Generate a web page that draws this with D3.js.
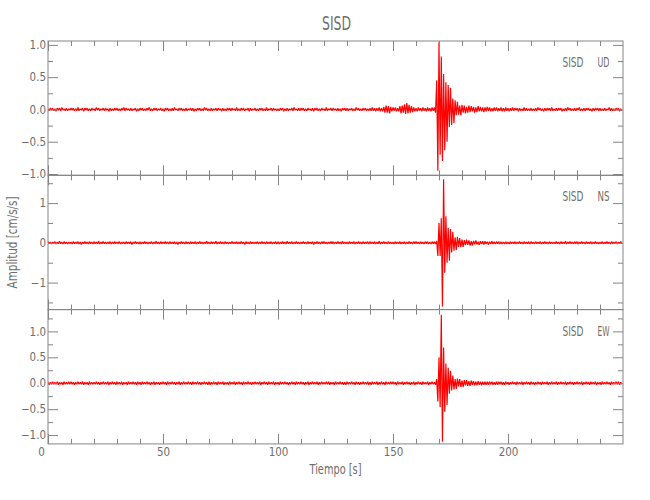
<!DOCTYPE html>
<html><head><meta charset="utf-8">
<script src="https://cdn.jsdelivr.net/npm/d3@7"></script>
<style>
body{margin:0;background:#fff;}
svg{display:block;}
text{font-family:"Liberation Sans Narrow","DejaVu Sans Condensed","Liberation Sans",sans-serif;fill:#6e6e6e;}
.tick text{font-size:11.5px;}
</style></head><body>
<svg id="chart" width="650" height="500"></svg>
<script>
// ---------------- DATA ----------------
const title = "SISD";
const station = "SISD";
const components = ["UD", "NS", "EW"];
const xLabel = "Tiempo [s]";
const yLabel = "Amplitud [cm/s/s]";
const sampleStep = 0.5;            // seconds between samples
const timeRange = [0, 250];
const xTickValues = [0, 50, 100, 150, 200];
const xTickLabels = ["0", "50", "100", "150", "200"];

// amplitudes in 0.01 cm/s/s, one sample every 0.5 s (20 samples = 10 s per row)
const udTrace = [
 1,-2,2,-1,2,-2,1,-3,2,-1,2,-2,3,-1,1,-2,2,-2,1,-1,
 2,-1,2,-2,1,-2,3,-2,1,-1,2,-3,2,-1,2,-2,1,-2,2,-1,
 1,-2,3,-1,2,-2,1,-1,2,-2,2,-1,1,-3,2,-2,1,-2,2,-1,
 2,-2,1,-2,2,-1,3,-2,2,-1,1,-2,2,-2,1,-1,2,-3,1,-2,
 2,-1,2,-2,1,-2,2,-1,3,-2,1,-2,2,-1,2,-2,1,-1,2,-2,
 1,-3,2,-1,2,-2,1,-2,2,-2,3,-1,1,-2,2,-1,2,-2,1,-2,
 2,-2,1,-1,2,-2,2,-3,1,-2,2,-1,2,-2,1,-2,3,-1,2,-2,
 1,-2,2,-2,1,-1,2,-2,2,-1,1,-3,2,-2,1,-2,2,-1,2,-2,
 2,-1,1,-2,3,-2,1,-2,2,-1,2,-2,1,-1,2,-3,2,-2,1,-1,
 2,-2,1,-2,2,-1,2,-2,1,-2,3,-2,1,-1,2,-2,2,-1,1,-2,
 1,-2,2,-1,2,-3,1,-2,2,-2,1,-1,2,-2,3,-1,1,-2,2,-2,
 2,-1,2,-2,1,-2,2,-1,1,-2,2,-3,2,-1,2,-2,1,-2,2,-1,
 1,-2,3,-2,1,-1,2,-2,2,-1,1,-2,2,-2,1,-3,2,-1,2,-2,
 2,-2,1,-1,2,-2,1,-2,3,-1,2,-2,1,-2,2,-1,2,-2,1,-2,
 2,-2,3,-2,2,-3,2,-2,3,-3,2,-3,4,-5,6,-5,5,-6,4,-3,
 3,-2,3,-3,2,-3,5,-6,6,-5,8,-7,10,-6,7,-5,5,-4,3,-3,
 2,-3,3,-2,2,-3,3,-2,2,-3,3,-2,2,-3,3,-2,3,-5,45,-95,
 104,-70,82,-80,55,-63,42,-50,38,-27,33,-24,17,-21,14,-9,12,-8,6,-9,
 7,-5,6,-6,4,-5,6,-4,5,-3,4,-5,3,-4,5,-3,4,-3,3,-4,
 3,-3,4,-2,3,-3,2,-3,3,-2,3,-3,2,-2,3,-3,2,-3,3,-2,
 2,-3,2,-2,3,-2,2,-1,2,-3,2,-2,1,-2,3,-2,2,-2,1,-2,
 2,-2,1,-2,2,-2,3,-1,2,-2,1,-3,2,-2,2,-1,2,-2,3,-2,
 1,-2,2,-2,2,-1,2,-3,1,-2,2,-2,3,-1,2,-2,1,-2,2,-2,
 2,-1,3,-2,1,-2,2,-2,2,-1,2,-2,1,-3,2,-2,2,-1,2,-2,
 2,-2,1,-2,2,-2,1,-1,3,-2,2,-2,1,-2,2,-1,2,-3,1,-2
];
const nsTrace = [
 3,-2,2,-3,2,-2,3,-3,2,-2,4,-2,2,-3,3,-2,2,-3,2,-2,
 2,-3,3,-2,2,-2,3,-3,2,-4,2,-2,3,-2,2,-3,3,-2,2,-3,
 3,-2,2,-2,4,-3,2,-2,3,-2,2,-3,2,-2,3,-3,2,-2,3,-2,
 2,-2,3,-3,2,-2,2,-3,3,-2,2,-2,3,-4,2,-2,3,-2,2,-3,
 3,-3,2,-2,3,-2,2,-3,2,-2,3,-3,2,-2,4,-2,2,-3,3,-2,
 2,-2,3,-2,2,-3,3,-2,2,-2,3,-3,2,-4,2,-2,3,-2,2,-3,
 3,-2,2,-3,3,-2,2,-2,3,-3,2,-2,3,-2,2,-3,2,-2,4,-2,
 2,-3,3,-2,2,-2,4,-3,2,-2,3,-2,2,-3,3,-2,2,-3,2,-2,
 3,-2,2,-2,3,-3,2,-2,3,-2,2,-4,3,-2,2,-3,3,-2,2,-2,
 2,-2,3,-3,2,-2,3,-2,2,-3,3,-2,2,-2,3,-3,2,-2,3,-3,
 3,-3,2,-2,3,-2,2,-3,4,-2,2,-2,3,-3,2,-2,3,-2,2,-3,
 2,-2,3,-2,2,-3,3,-2,2,-2,3,-4,2,-2,3,-2,2,-3,3,-2,
 3,-2,2,-3,2,-2,3,-2,3,-3,2,-2,3,-2,2,-3,4,-2,2,-2,
 2,-3,3,-2,2,-2,3,-3,2,-2,3,-2,2,-3,3,-2,2,-2,3,-3,
 3,-2,2,-2,3,-3,2,-2,4,-3,2,-2,3,-2,2,-3,3,-2,2,-2,
 2,-3,3,-2,2,-2,3,-3,2,-2,3,-3,2,-2,3,-2,2,-3,3,-2,
 3,-2,2,-3,3,-2,2,-3,3,-2,3,-3,2,-3,3,-2,3,-3,5,-33,
 50,-33,62,-160,160,-75,67,-50,38,-45,35,-24,28,-20,14,-18,15,-10,12,-11,
 8,-10,7,-6,8,-5,6,-7,4,-6,5,-4,6,-4,3,-5,4,-3,4,-4,
 4,-3,3,-4,3,-3,4,-3,3,-3,3,-2,3,-3,3,-3,2,-3,3,-3,
 2,-3,3,-2,2,-2,3,-3,2,-2,3,-2,2,-3,3,-2,2,-2,3,-3,
 3,-2,2,-3,3,-2,2,-2,3,-3,2,-2,3,-2,2,-3,3,-2,2,-2,
 2,-2,3,-2,2,-3,3,-2,2,-2,4,-3,2,-2,3,-2,2,-3,3,-2,
 3,-3,2,-2,3,-2,2,-3,3,-2,2,-2,3,-3,2,-2,3,-2,2,-3,
 2,-2,3,-3,2,-2,3,-2,2,-3,3,-2,2,-2,3,-3,2,-2,3,-2
];
const ewTrace = [
 2,-3,2,-2,3,-2,2,-2,3,-3,2,-2,2,-3,3,-2,2,-2,3,-2,
 3,-2,2,-3,2,-2,3,-2,2,-2,3,-3,2,-2,2,-3,3,-2,2,-2,
 2,-2,3,-2,2,-3,2,-2,3,-2,2,-2,3,-3,2,-2,3,-2,2,-3,
 3,-2,2,-2,3,-3,2,-2,2,-3,3,-2,2,-2,3,-2,2,-3,3,-2,
 2,-3,3,-2,2,-2,3,-2,2,-3,2,-2,3,-3,2,-2,2,-3,2,-2,
 3,-2,2,-3,3,-2,2,-2,3,-2,2,-3,2,-2,3,-3,2,-2,3,-2,
 2,-2,3,-2,2,-3,3,-2,2,-2,3,-2,2,-3,2,-2,3,-2,2,-3,
 3,-3,2,-2,3,-2,2,-3,3,-2,2,-2,3,-3,2,-2,2,-3,3,-2,
 2,-2,3,-3,2,-2,3,-2,2,-3,3,-2,2,-2,3,-2,2,-3,2,-2,
 3,-2,2,-2,3,-3,2,-2,3,-2,2,-3,3,-2,2,-2,3,-3,2,-2,
 2,-3,3,-2,2,-2,3,-2,2,-3,2,-2,3,-2,2,-3,3,-2,2,-2,
 3,-2,2,-3,2,-2,3,-3,2,-2,3,-2,2,-2,3,-3,2,-2,3,-2,
 2,-2,3,-2,3,-3,2,-2,2,-3,3,-2,2,-2,3,-2,2,-3,2,-3,
 3,-2,2,-2,3,-2,2,-3,3,-2,2,-3,2,-2,3,-2,2,-2,3,-3,
 2,-3,3,-2,2,-2,3,-3,2,-2,3,-2,2,-3,3,-2,2,-2,3,-2,
 3,-2,2,-3,3,-2,2,-2,3,-3,2,-2,3,-2,2,-3,2,-2,3,-3,
 2,-2,3,-2,2,-3,3,-2,2,-2,3,-3,2,-2,3,-2,2,-3,8,-35,
 50,-46,132,-113,69,-55,38,-42,30,-20,24,-14,15,-12,8,-11,9,-6,8,-7,
 5,-7,6,-4,6,-5,4,-5,5,-3,4,-4,3,-4,4,-3,3,-4,3,-3,
 3,-3,3,-3,3,-2,3,-3,2,-3,3,-3,3,-2,3,-3,2,-3,3,-2,
 2,-3,2,-2,3,-2,2,-3,3,-2,2,-2,3,-3,2,-2,3,-2,2,-3,
 3,-2,2,-3,2,-2,3,-2,2,-3,3,-2,2,-2,3,-3,2,-2,3,-2,
 2,-2,3,-3,2,-2,3,-2,2,-2,3,-3,2,-2,3,-2,2,-3,2,-2,
 3,-2,2,-2,3,-3,2,-2,3,-2,2,-3,3,-2,2,-2,3,-3,2,-2,
 2,-3,3,-2,2,-2,3,-2,2,-3,3,-2,2,-2,3,-2,3,-3,2,-2
];
const udRange = [-1.02, 1.06];
const nsRange = [-1.68, 1.70];
const ewRange = [-1.17, 1.42];
const udTickValues = [-1.0, -0.5, 0, 0.5, 1.0];
const udTickLabels = ["\u22121.0", "\u22120.5", "0.0", "0.5", "1.0"];
const nsTickValues = [-1, 0, 1];
const nsTickLabels = ["\u22121", "0", "1"];
const ewTickValues = [-1.0, -0.5, 0, 0.5, 1.0];
const ewTickLabels = ["\u22121.0", "\u22120.5", "0.0", "0.5", "1.0"];

// ---------------- LAYOUT ----------------
(function () {
const W = 650, H = 500;
const mLeft = 48, mRight = 623, mTop = 41, panelH = 134.3;
const axisColor = "#858585";

const panels = [
  {comp: components[0], trace: udTrace, range: udRange, tv: udTickValues, tl: udTickLabels, minorStep: 0.25},
  {comp: components[1], trace: nsTrace, range: nsRange, tv: nsTickValues, tl: nsTickLabels, minorStep: 0.5},
  {comp: components[2], trace: ewTrace, range: ewRange, tv: ewTickValues, tl: ewTickLabels, minorStep: 0.25}
];

const svg = d3.select("#chart");
svg.append("rect").attr("width", W).attr("height", H).attr("fill", "#fff");

const x = d3.scaleLinear().domain(timeRange).range([mLeft, mRight]);
const xMinor = d3.range(0, 251, 10).filter(v => !xTickValues.includes(v) && v < timeRange[1]);

svg.append("text").attr("x", (mLeft + mRight) / 2 + 1).attr("y", 30)
  .attr("text-anchor", "middle").style("font-size", "20px")
  .attr("textLength", 29).attr("lengthAdjust", "spacingAndGlyphs").text(title);

const defs = svg.append("defs");

panels.forEach((p, i) => {
  const y0 = mTop + i * panelH, y1 = y0 + panelH;
  const y = d3.scaleLinear().domain(p.range).range([y1, y0]);
  const lo = Math.ceil(p.range[0] / p.minorStep) * p.minorStep;
  const minorY = d3.range(lo, p.range[1] + 1e-9, p.minorStep)
    .filter(v => !p.tv.some(t => Math.abs(t - v) < 1e-9));

  defs.append("clipPath").attr("id", "clip" + i)
    .append("rect").attr("x", mLeft).attr("y", y0).attr("width", mRight - mLeft).attr("height", panelH);

  const line = d3.line().x((d, j) => x(j * sampleStep)).y(d => y(d / 100));
  svg.append("path").datum(p.trace).attr("clip-path", "url(#clip" + i + ")")
    .attr("d", line).attr("fill", "none").attr("stroke", "#ff0000")
    .attr("stroke-width", 1.2).attr("stroke-linejoin", "bevel");

  const ax = g => g.attr("color", axisColor).call(s => s.select(".domain").remove());

  svg.append("g").attr("transform", `translate(${mLeft},0)`)
    .call(d3.axisLeft(y).tickValues(p.tv).tickFormat((d, j) => p.tl[j]).tickSizeInner(-10).tickSizeOuter(0).tickPadding(2))
    .call(ax);
  svg.append("g").attr("transform", `translate(${mLeft},0)`)
    .call(d3.axisLeft(y).tickValues(minorY).tickFormat("").tickSizeInner(-5).tickSizeOuter(0)).call(ax);
  svg.append("g").attr("transform", `translate(${mRight},0)`)
    .call(d3.axisRight(y).tickValues(p.tv).tickFormat("").tickSizeInner(-10).tickSizeOuter(0)).call(ax);
  svg.append("g").attr("transform", `translate(${mRight},0)`)
    .call(d3.axisRight(y).tickValues(minorY).tickFormat("").tickSizeInner(-5).tickSizeOuter(0)).call(ax);
  svg.append("g").attr("transform", `translate(0,${y0})`)
    .call(d3.axisTop(x).tickValues(xTickValues).tickFormat("").tickSizeInner(-10).tickSizeOuter(0)).call(ax);
  svg.append("g").attr("transform", `translate(0,${y0})`)
    .call(d3.axisTop(x).tickValues(xMinor).tickFormat("").tickSizeInner(-5).tickSizeOuter(0)).call(ax);
  const last = i === panels.length - 1;
  const bot = svg.append("g").attr("transform", `translate(0,${y1})`)
    .call(d3.axisBottom(x).tickValues(xTickValues)
      .tickFormat((d, j) => last ? xTickLabels[j] : "").tickSizeInner(-10).tickSizeOuter(0).tickPadding(4))
    .call(ax);
  if (last) bot.selectAll(".tick text").attr("dx", d => d === 0 ? -7 : 0);
  svg.append("g").attr("transform", `translate(0,${y1})`)
    .call(d3.axisBottom(x).tickValues(xMinor).tickFormat("").tickSizeInner(-5).tickSizeOuter(0)).call(ax);

  svg.append("rect").attr("x", mLeft).attr("y", y0).attr("width", mRight - mLeft).attr("height", panelH)
    .attr("fill", "none").attr("stroke", axisColor).attr("stroke-width", 1);

  svg.append("text").attr("x", 562.5).attr("y", y0 + 26).style("font-size", "13.5px")
    .attr("textLength", 21).attr("lengthAdjust", "spacingAndGlyphs").text(station);
  svg.append("text").attr("x", 597.5).attr("y", y0 + 26).style("font-size", "13.5px")
    .attr("textLength", 12).attr("lengthAdjust", "spacingAndGlyphs").text(p.comp);
});

svg.append("text").attr("x", (mLeft + mRight) / 2).attr("y", 474).attr("text-anchor", "middle")
  .style("font-size", "13.5px").attr("textLength", 52).attr("lengthAdjust", "spacingAndGlyphs").text(xLabel);
svg.append("text").attr("transform", `translate(17,${mTop + 1.5 * panelH}) rotate(-90)`)
  .attr("text-anchor", "middle").style("font-size", "13.5px")
  .attr("textLength", 92).attr("lengthAdjust", "spacingAndGlyphs").text(yLabel);
})();
</script>
</body></html>
